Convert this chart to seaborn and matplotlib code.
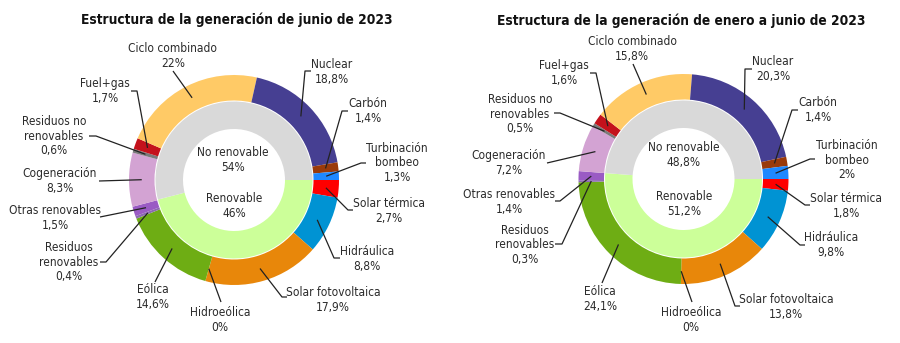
import numpy as np
import matplotlib
matplotlib.use("Agg")
import matplotlib.pyplot as plt
from matplotlib import font_manager as fm
import seaborn as sns

# ---------------- data ----------------
technologies = ["Solar térmica", "Hidráulica", "Solar fotovoltaica", "Hidroeólica", "Eólica",
                "Residuos renovables", "Otras renovables", "Cogeneración",
                "Residuos no renovables", "Fuel+gas", "Ciclo combinado", "Nuclear",
                "Carbón", "Turbinación bombeo"]
label_text = ["Solar térmica", "Hidráulica", "Solar fotovoltaica", "Hidroeólica", "Eólica",
              "Residuos\nrenovables", "Otras renovables", "Cogeneración",
              "Residuos no\nrenovables", "Fuel+gas", "Ciclo combinado", "Nuclear",
              "Carbón", "Turbinación\nbombeo"]
june_values = [2.7, 8.8, 17.9, 0.0, 14.6, 0.4, 1.5, 8.3, 0.6, 1.7, 22.0, 18.8, 1.4, 1.3]
ytd_values = [1.8, 9.8, 13.8, 0.0, 24.1, 0.3, 1.4, 7.2, 0.5, 1.6, 15.8, 20.3, 1.4, 2.0]

groups = ["Renovable", "No renovable"]
june_groups = [46.0, 54.0]
ytd_groups = [51.2, 48.8]

titles = ["Estructura de la generación de junio de 2023",
          "Estructura de la generación de enero a junio de 2023"]

tech_colors = ["#FF0000", "#0093D3", "#E8870A", "#5A8F2A", "#6EAD14",
               "#8C6BB1", "#9A5BC4", "#D3A3D3",
               "#7A7A7A", "#C4121C", "#FFCA66", "#463F92",
               "#9A3A0A", "#1E88FF"]
group_colors = ["#CCFF99", "#D9D9D9"]

# ---------------- layout (pixels) ----------------
W, H = 900, 343
centers = [(234, 180), (683.5, 179)]
R_OUT, W_OUT = 105, 25.5
R_IN, W_IN = 78.5, 27.5
title_pos = [(237, 20), (681, 21)]

# per label: text block centre, elbow point, stub end (None = no stub)
label_layout = [
    {  # june
        "Solar térmica": ((389, 211), (348, 210), (353, 210)),
        "Hidráulica": ((367, 259), (334, 258), (340, 258)),
        "Solar fotovoltaica": ((333, 300), (282, 297), (287, 297)),
        "Hidroeólica": ((220, 320), (221, 302), None),
        "Eólica": ((153, 297), (155, 282), None),
        "Residuos renovables": ((69, 262), (106, 262), (100, 262)),
        "Otras renovables": ((55, 218), (100, 217), None),
        "Cogeneración": ((60, 181), (99, 181), None),
        "Residuos no renovables": ((54, 136), (96, 136), (89, 136)),
        "Fuel+gas": ((105, 91), (137, 91), (131, 91)),
        "Ciclo combinado": ((173, 56), (173, 71), None),
        "Nuclear": ((332, 72), (305, 71), (311, 71)),
        "Carbón": ((368, 111), (342, 111), (348, 111)),
        "Turbinación bombeo": ((397, 163), (361, 163), (366, 163)),
    },
    {  # jan-jun
        "Solar térmica": ((846, 206), (805, 205), (810, 205)),
        "Hidráulica": ((831, 245), (800, 245), (805, 245)),
        "Solar fotovoltaica": ((786, 307), (735, 306), (740, 306)),
        "Hidroeólica": ((691, 320), (692, 302), None),
        "Eólica": ((600, 299), (602, 283), None),
        "Residuos renovables": ((525, 245), (562, 244), (555, 244)),
        "Otras renovables": ((509, 202), (560, 201), (555, 201)),
        "Cogeneración": ((509, 163), (547, 163), None),
        "Residuos no renovables": ((520, 114), (560, 113), (554, 113)),
        "Fuel+gas": ((564, 73), (596, 73), (590, 73)),
        "Ciclo combinado": ((632, 49), (633, 64), None),
        "Nuclear": ((773, 69), (745, 69), (752, 69)),
        "Carbón": ((818, 110), (792, 110), (798, 110)),
        "Turbinación bombeo": ((847, 160), (810, 159), (815, 159)),
    },
]
inner_text_pos = [((233, 160), (234, 206)), ((684, 155), (684, 204))]

# ---------------- style ----------------
sns.set_theme(style="white")
plt.rcParams["font.family"] = ["DejaVu Sans"]


def find_font(bold=False):
    cands = []
    for f in fm.fontManager.ttflist:
        n = (f.name + " " + f.fname).lower()
        narrow = ("condensed" in n or "narrow" in n or f.stretch in ("condensed", "semi-condensed")) \
            and "extra" not in n and "ultra" not in n
        if not narrow:
            continue
        if "italic" in f.fname.lower() or "oblique" in f.fname.lower():
            continue
        isbold = (f.weight in ("bold", 700) or "bold" in f.fname.lower())
        if isbold != bold:
            continue
        if "light" in f.fname.lower() or "thin" in f.fname.lower():
            continue
        cands.append(f.fname)
    if cands:
        return fm.FontProperties(fname=sorted(cands)[0]), True
    return fm.FontProperties(family="Roboto", weight="bold" if bold else "normal"), False


fp_reg, cond_reg = find_font(False)
fp_bold, cond_bold = find_font(True)
LBL_SIZE = 8.6 if cond_reg else 8.0
TTL_SIZE = 9.8 if cond_bold else 9.0
TXT = "#2b2b2b"


def fmt(v):
    if abs(v - round(v)) < 1e-9:
        return f"{int(round(v))}%"
    return f"{v:.1f}%".replace(".", ",")


def P(x, y):
    return (x, H - y)


def put(x, y, s, size=None, fp=None, **kw):
    f = (fp or fp_reg).copy()
    f.set_size(size or LBL_SIZE)
    ax.text(*P(x, y), s, ha="center", va="center", fontproperties=f,
            color=kw.pop("color", TXT), linespacing=1.15, **kw)


fig = plt.figure(figsize=(W / 100, H / 100), dpi=100)
ax = fig.add_axes([0, 0, 1, 1])

for k, (vals, gvals) in enumerate([(june_values, june_groups), (ytd_values, ytd_groups)]):
    cx, cy = P(*centers[k])
    ax.pie(vals, colors=tech_colors, radius=R_OUT, center=(cx, cy), startangle=0,
           counterclock=False, frame=True,
           wedgeprops=dict(width=W_OUT, linewidth=0))
    ax.pie(gvals, colors=group_colors, radius=R_IN, center=(cx, cy), startangle=0,
           counterclock=False, frame=True,
           wedgeprops=dict(width=W_IN, linewidth=0))

    total = sum(vals)
    cum = 0.0
    for name, txt, v in zip(technologies, label_text, vals):
        mid = cum + v / 2
        cum += v
        ang = np.deg2rad(-360 * mid / total)
        r_a = R_OUT - W_OUT / 2
        a_x, a_y = cx + r_a * np.cos(ang), cy + r_a * np.sin(ang)
        (tx, ty), (ex, ey), stub = label_layout[k][name]
        ex, ey = P(ex, ey)
        xs, ys = [a_x, ex], [a_y, ey]
        if stub is not None:
            sx, sy = P(*stub)
            xs.append(sx)
            ys.append(sy)
        ax.plot(xs, ys, color="#222222", lw=0.9, solid_capstyle="butt")
        put(tx, ty, f"{txt}\n{fmt(v)}")

    (nx, ny), (rx, ry) = inner_text_pos[k]
    put(nx, ny, f"No renovable\n{fmt(gvals[1])}")
    put(rx, ry, f"Renovable\n{fmt(gvals[0])}")

    put(*title_pos[k], titles[k], size=TTL_SIZE, fp=fp_bold, color="#111111")

ax.set_xlim(0, W)
ax.set_ylim(0, H)
ax.set_aspect("equal")
ax.axis("off")
fig.savefig("out.png", dpi=100, facecolor="white")
